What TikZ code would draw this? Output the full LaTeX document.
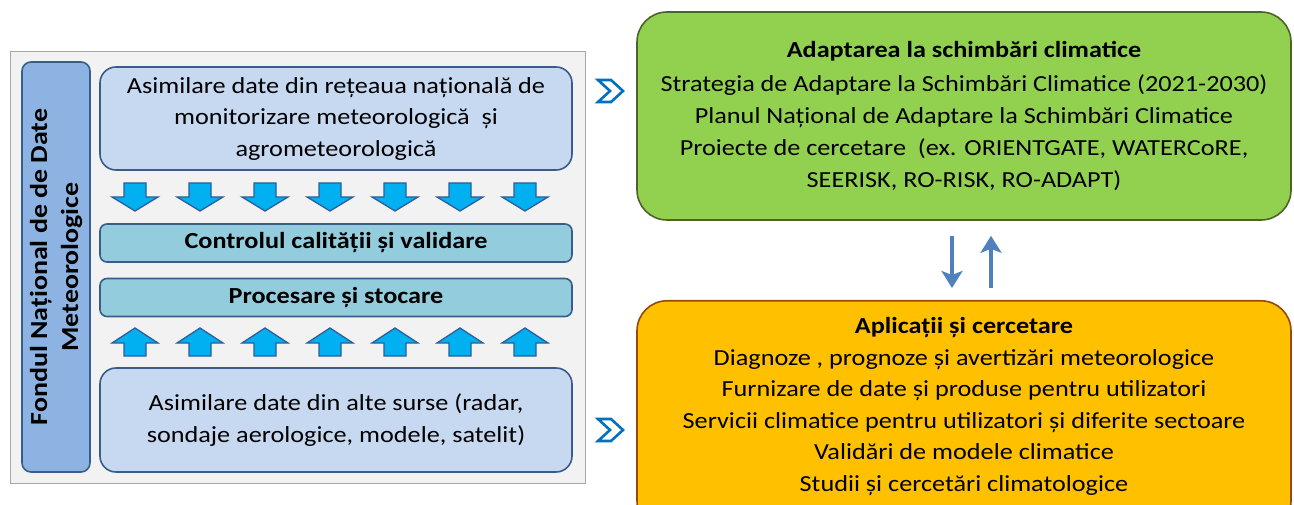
\documentclass[tikz,border=0pt]{standalone}
\usepackage{fontspec}
\setmainfont{Carlito}[FakeStretch=1.14]
\usetikzlibrary{positioning,arrows.meta}

\definecolor{fondgray}{HTML}{F2F2F2}
\definecolor{fondline}{HTML}{A6A6A6}
\definecolor{barblue}{HTML}{8DB3E2}
\definecolor{boxblue}{HTML}{C6D9F1}
\definecolor{boxteal}{HTML}{93CDDD}
\definecolor{edgeblue}{HTML}{385D8A}
\definecolor{arrblue}{HTML}{00B0F0}
\definecolor{arrline}{HTML}{2E5E9A}
\definecolor{chevblue}{HTML}{0070C0}
\definecolor{linkblue}{HTML}{4F81BD}
\definecolor{adaptgreen}{HTML}{92D050}
\definecolor{greenline}{HTML}{4F6228}
\definecolor{aplorange}{HTML}{FFC000}
\definecolor{orangeline}{HTML}{984807}

\tikzset{
  txt/.style={font=\fontsize{23}{31.5}\selectfont, align=center},
  bluebox/.style={txt, draw=edgeblue, line width=1.6pt, fill=boxblue, rounded corners=16pt,
    minimum width=472pt, inner sep=0pt},
  tealbox/.style={txt, draw=edgeblue, line width=1.6pt, fill=boxteal, rounded corners=7pt,
    minimum width=472pt, minimum height=38pt, inner sep=0pt, font=\fontsize{23}{31}\selectfont\bfseries},
  bigbox/.style={txt, line width=1.6pt, rounded corners=30pt, minimum width=654pt, inner sep=0pt},
  blockarr/.style={fill=arrblue, draw=arrline, line width=1.3pt, line join=miter},
  link/.style={draw=linkblue, line width=3.5pt, -{Stealth[length=17pt,width=21pt,inset=4pt]}}
}

% chevron mark, tip centered on #1,#2
\newcommand{\chevmark}[2]{%
  \draw[chevblue, line width=2.6pt, fill=white, line join=miter]
    (#1-12,#2-11) -- (#1+1,#2-11) -- (#1+13,#2) -- (#1+1,#2+11) -- (#1-12,#2+11) -- (#1,#2) -- cycle;}

\begin{document}
\begin{tikzpicture}[x=1pt,y=-1pt]
\useasboundingbox (0,0) rectangle (1294,505);

% Fondul national (left panel)
\node[draw=fondline, fill=fondgray, line width=1pt, minimum width=575pt, minimum height=431pt, inner sep=0pt]
  (fond) at (297.5,267.5) {};
\node[draw=edgeblue, fill=barblue, line width=1.6pt, rounded corners=9pt, minimum width=410pt, minimum height=68pt,
  inner sep=0pt, rotate=90, align=center, font=\fontsize{24.5}{31}\selectfont\bfseries]
  (bar) at (56,267) {Fondul Național de de Date\\Meteorologice};

\node[bluebox, minimum height=103pt] (retea) at (336,118.5)
  {Asimilare date din rețeaua națională de\\monitorizare meteorologică \ și\\agrometeorologică};
\node[tealbox] (control) at (336,243) {Controlul calității și validare};
\node[tealbox] (proces) at (336,297.5) {Procesare și stocare};
\node[bluebox, minimum height=104pt] (surse) at (336,420)
  {Asimilare date din alte surse (radar,\\sondaje aerologice, modele, satelit)};

% block arrows down and up
\foreach \x in {135,200,...,525} {
  \draw[blockarr] (\x-11,183) -- (\x+11,183) -- (\x+11,197) -- (\x+23,197) -- (\x,211)
    -- (\x-23,197) -- (\x-11,197) -- cycle;
  \draw[blockarr] (\x-11,356) -- (\x+11,356) -- (\x+11,343) -- (\x+23,343) -- (\x,328)
    -- (\x-23,343) -- (\x-11,343) -- cycle;
}

% right boxes
\node[bigbox, draw=greenline, fill=adaptgreen, minimum height=208pt, font=\fontsize{23}{32}\selectfont] (adapt) at (964,116)
  {\textbf{Adaptarea la schimbări climatice}\\[2pt]
   Strategia de Adaptare la Schimbări Climatice (2021-2030)\\
   Planul Național de Adaptare la Schimbări Climatice\\
   Proiecte de cercetare \ (ex. ORIENTGATE, WATERCoRE,\\
   SEERISK, RO-RISK, RO-ADAPT)};
\node[bigbox, draw=orangeline, fill=aplorange, minimum height=230pt, anchor=north] (apl) at (964,300) {};
\node[txt, anchor=north] (apltxt) at (964,314)
  {\textbf{Aplicații și cercetare}\\
   Diagnoze , prognoze și avertizări meteorologice\\
   Furnizare de date și produse pentru utilizatori\\
   Servicii climatice pentru utilizatori și diferite sectoare\\
   Validări de modele climatice\\
   Studii și cercetări climatologice};

% chevrons
\chevmark{610}{91}
\chevmark{610}{430}

% links between the right boxes
\coordinate (dn) at (952,0);
\coordinate (up) at (991,0);
\draw[link, shorten <=15pt, shorten >=12pt] (adapt.south -| dn) -- (apl.north -| dn);
\draw[link, shorten <=12pt, shorten >=15pt] (apl.north -| up) -- (adapt.south -| up);
\end{tikzpicture}
\end{document}
